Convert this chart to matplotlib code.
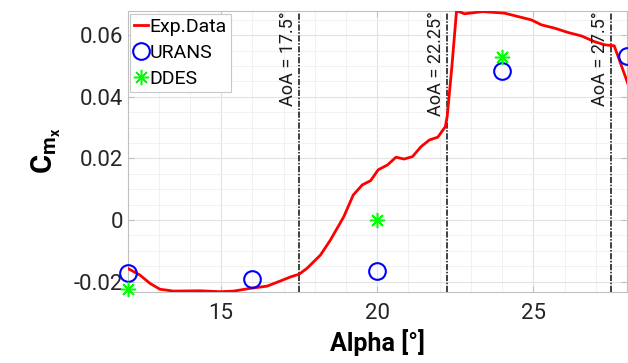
import numpy as np
import matplotlib.pyplot as plt
from matplotlib.ticker import MultipleLocator
from matplotlib.lines import Line2D

plt.close('all')
plt.rcParams['font.family'] = ['Roboto', 'DejaVu Sans']
plt.rcParams['mathtext.fontset'] = 'custom'
plt.rcParams['mathtext.rm'] = 'Roboto'
plt.rcParams['mathtext.it'] = 'Roboto:italic'
plt.rcParams['mathtext.bf'] = 'Roboto:bold'

# --- data ---
alpha_exp = [12.0, 12.4, 12.72, 13.04, 13.47, 14.33, 14.97, 15.4, 15.94, 16.47,
             16.9, 17.22, 17.5, 17.75, 18.18, 18.5, 18.93, 19.23, 19.52, 19.79,
             20.03, 20.33, 20.6, 20.86, 21.13, 21.4, 21.67, 21.94, 22.18, 22.24,
             22.39, 22.54, 22.79, 23.38, 24.08, 24.51, 24.94, 25.26, 25.69, 26.12,
             26.54, 26.97, 27.29, 27.59, 28.1]
cm_exp = [-0.0157, -0.0179, -0.0206, -0.0225, -0.0231, -0.0230, -0.0233, -0.0231, -0.0222, -0.0215,
          -0.0198, -0.0185, -0.0176, -0.0157, -0.0114, -0.0065, 0.0011, 0.0081, 0.0114, 0.0128,
          0.0163, 0.0179, 0.0204, 0.0198, 0.0206, 0.0238, 0.0260, 0.0269, 0.0303, 0.0336,
          0.0498, 0.0680, 0.0670, 0.0677, 0.0672, 0.0661, 0.0650, 0.0634, 0.0623, 0.0609,
          0.0598, 0.0579, 0.0569, 0.0566, 0.0423]

alpha_urans = [12, 16, 20, 24, 28]
cm_urans = [-0.0172, -0.0192, -0.0166, 0.0483, 0.0532]

alpha_ddes = [12, 20, 24]
cm_ddes = [-0.0224, 0.0, 0.0528]

aoa_lines = [17.5, 22.25, 27.5]
aoa_labels = ['AoA = 17.5°', 'AoA = 22.25°', 'AoA = 27.5°']

# --- figure ---
fig = plt.figure(figsize=(6.28, 3.63), dpi=100)
ax = fig.add_axes([127.5/628, (363-291.7)/363, (627-127.5)/628, (291.7-10.7)/363])

ax.set_xlim(12, 28)
ax.set_ylim(-0.0233, 0.0680)

ax.xaxis.set_major_locator(MultipleLocator(5))
ax.xaxis.set_minor_locator(MultipleLocator(1))
ax.yaxis.set_major_locator(MultipleLocator(0.02))
ax.yaxis.set_minor_locator(MultipleLocator(0.005))
ax.set_yticks([-0.02, 0, 0.02, 0.04, 0.06])
ax.set_yticklabels(['-0.02', '0', '0.02', '0.04', '0.06'])

ax.grid(True, which='major', color='#e2e2e2', lw=0.8)
ax.grid(True, which='minor', color='#f1f1f1', lw=0.7)
ax.set_axisbelow(True)
for s in ax.spines.values():
    s.set_color('#c0c0c0')
    s.set_linewidth(0.8)
ax.tick_params(which='both', direction='in', top=True, right=True, colors='#c0c0c0',
               labelcolor='#262626', labelsize=16)
ax.tick_params(which='major', length=4)
ax.tick_params(which='minor', length=0)
ax.tick_params(axis='x', pad=8)
ax.tick_params(axis='y', pad=3)

ax.plot(alpha_exp, cm_exp, color='red', lw=2, zorder=3)
ax.plot(alpha_urans, cm_urans, 'o', mfc='none', mec='blue', mew=1.5, ms=12, clip_on=False, zorder=4)
ax.plot(alpha_ddes, cm_ddes, ls='none', marker=(8, 2, 0), mec='#00ff00', mew=1.1, ms=11,
        clip_on=False, zorder=4)

for xv, lab in zip(aoa_lines, aoa_labels):
    ax.axvline(xv, color='#404040', lw=1.4, dashes=(3.2, 0.8, 0.8, 0.8), zorder=2)
    ax.text(xv - 0.08, 0.0677, lab, rotation=90, ha='right', va='top', fontsize=13,
            color='#1a1a1a')

handles = [Line2D([], [], color='red', lw=2),
           Line2D([], [], ls='none', marker='o', mfc='none', mec='blue', mew=1.5, ms=12),
           Line2D([], [], ls='none', marker=(8, 2, 0), mec='#00ff00', mew=1.1, ms=11)]
leg = ax.legend(handles, ['Exp.Data', 'URANS', 'DDES'], loc='upper left', fontsize=14,
                handlelength=0.7, handletextpad=0.1, borderpad=0.2, labelspacing=0.42,
                borderaxespad=0.15, fancybox=False, framealpha=1, edgecolor='#c8c8c8')
leg.get_frame().set_linewidth(0.8)

ax.set_xlabel('Alpha [°]', fontsize=18, fontweight='bold', labelpad=4)
ax.set_ylabel(r'$\mathbf{C_{m_x}}$', fontsize=21, labelpad=8)

fig.savefig('out.png', dpi=100)
